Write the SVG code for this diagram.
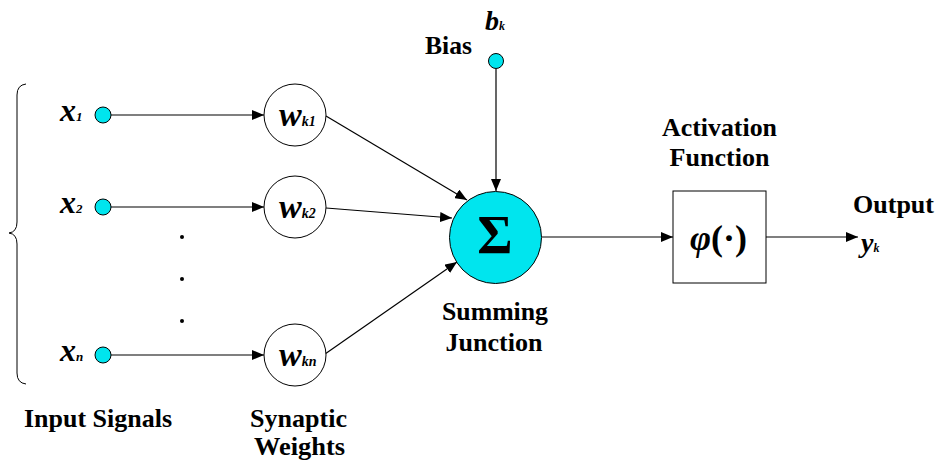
<svg xmlns="http://www.w3.org/2000/svg" width="940" height="466" viewBox="0 0 940 466">
  <defs>
    <marker id="arrow" viewBox="0 0 12 10" refX="12" refY="5" markerWidth="12" markerHeight="10" markerUnits="userSpaceOnUse" orient="auto">
      <path d="M0,0 L12,5 L0,10 Z" fill="#000"/>
    </marker>
  </defs>
  <style>
    text { font-family: 'Liberation Serif', 'Times New Roman', serif; fill: #000; }
    .lbl { font-weight: bold; font-size: 25px; }
    .sym { font-weight: bold; font-style: italic; }
    .in { fill: #00E5EE; stroke: #000; stroke-width: 1; }
    .wt { fill: #fff; stroke: #000; stroke-width: 1; }
    .edge { fill: none; stroke: #000; stroke-width: 1.2; marker-end: url(#arrow); }
  </style>
  <rect width="940" height="466" fill="#fff"/>

  <!-- brace grouping the inputs -->
  <path d="M26,84 Q17,85 17,95 L17,222 Q17,232 9,233 Q17,234 17,244 L17,373 Q17,383 26,384" fill="none" stroke="#000" stroke-width="1"/>

  <!-- connectors -->
  <g id="connectors">
    <line class="edge" x1="111" y1="115" x2="264" y2="115"/>
    <line class="edge" x1="111" y1="207" x2="264" y2="207"/>
    <line class="edge" x1="111" y1="355" x2="264" y2="355"/>
    <line class="edge" x1="326" y1="116" x2="467" y2="200"/>
    <line class="edge" x1="326" y1="208" x2="452" y2="218"/>
    <line class="edge" x1="325" y1="354" x2="457" y2="262"/>
    <line class="edge" x1="496" y1="69" x2="496" y2="191"/>
    <line class="edge" x1="542" y1="237" x2="673" y2="237"/>
    <line class="edge" x1="766" y1="237" x2="858" y2="237"/>
  </g>

  <!-- inputs -->
  <g id="input-x1">
    <circle class="in" cx="103" cy="115" r="8"/>
    <text class="sym" x="60" y="121" font-size="32">x<tspan font-size="13">1</tspan></text>
  </g>
  <g id="input-x2">
    <circle class="in" cx="103" cy="207" r="8"/>
    <text class="sym" x="60" y="213" font-size="32">x<tspan font-size="13">2</tspan></text>
  </g>
  <g id="input-xn">
    <circle class="in" cx="103" cy="355" r="8"/>
    <text class="sym" x="60" y="361" font-size="32">x<tspan font-size="13">n</tspan></text>
  </g>

  <!-- ellipsis between x2 and xn -->
  <g id="ellipsis" fill="#000">
    <circle cx="182" cy="237" r="2"/>
    <circle cx="182" cy="279" r="2"/>
    <circle cx="182" cy="321" r="2"/>
  </g>

  <!-- synaptic weights -->
  <g id="weight-wk1">
    <circle class="wt" cx="295" cy="115" r="31"/>
    <text class="sym" x="279" y="126" font-size="34">w<tspan font-size="14">k1</tspan></text>
  </g>
  <g id="weight-wk2">
    <circle class="wt" cx="295" cy="207" r="31"/>
    <text class="sym" x="279" y="218" font-size="34">w<tspan font-size="14">k2</tspan></text>
  </g>
  <g id="weight-wkn">
    <circle class="wt" cx="295" cy="355" r="31"/>
    <text class="sym" x="279" y="366" font-size="34">w<tspan font-size="14">kn</tspan></text>
  </g>

  <!-- bias -->
  <g id="bias">
    <circle class="in" cx="496" cy="61" r="7.5"/>
    <text class="lbl" x="425" y="54" textLength="47" lengthAdjust="spacingAndGlyphs">Bias</text>
    <text class="sym" x="485" y="30" font-size="28">b<tspan font-size="12">k</tspan></text>
  </g>

  <!-- summing junction -->
  <g id="summing-junction">
    <circle cx="495.5" cy="237.5" r="46" fill="#00E5EE" stroke="#000" stroke-width="1"/>
    <text x="495" y="253" text-anchor="middle" font-weight="bold" font-size="54">Σ</text>
    <text class="lbl" x="495" y="320" text-anchor="middle" textLength="106" lengthAdjust="spacingAndGlyphs">Summing</text>
    <text class="lbl" x="494" y="351" text-anchor="middle" textLength="97" lengthAdjust="spacingAndGlyphs">Junction</text>
  </g>

  <!-- activation function -->
  <g id="activation">
    <rect x="673" y="191" width="93" height="92" fill="#fff" stroke="#000" stroke-width="1"/>
    <text x="718.5" y="250" text-anchor="middle" font-weight="bold" font-size="36" textLength="57" lengthAdjust="spacingAndGlyphs"><tspan font-style="italic">φ</tspan>(·)</text>
    <text class="lbl" x="719.5" y="136" text-anchor="middle" textLength="115" lengthAdjust="spacingAndGlyphs">Activation</text>
    <text class="lbl" x="719.5" y="166" text-anchor="middle" textLength="100" lengthAdjust="spacingAndGlyphs">Function</text>
  </g>

  <!-- output -->
  <g id="output">
    <text class="lbl" x="853" y="213" textLength="81" lengthAdjust="spacingAndGlyphs">Output</text>
    <text class="sym" x="861" y="252" font-size="28">y<tspan font-size="12">k</tspan></text>
  </g>

  <!-- column captions -->
  <g id="captions">
    <text class="lbl" x="24" y="427" textLength="148" lengthAdjust="spacingAndGlyphs">Input Signals</text>
    <text class="lbl" x="298.5" y="427" text-anchor="middle" textLength="97" lengthAdjust="spacingAndGlyphs">Synaptic</text>
    <text class="lbl" x="299.5" y="455" text-anchor="middle" textLength="91" lengthAdjust="spacingAndGlyphs">Weights</text>
  </g>
</svg>
